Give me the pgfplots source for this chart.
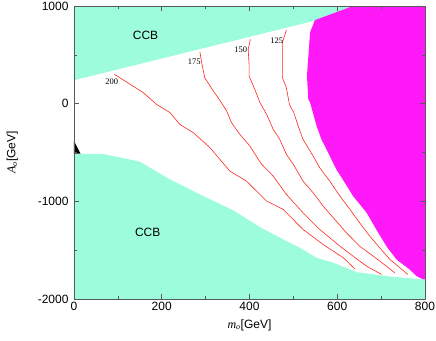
\documentclass[border=0pt]{standalone}
\usepackage{fontspec}
\setmainfont{Liberation Sans}
\newfontfamily\tms{Liberation Serif}
\usepackage{pgfplots}
\pgfplotsset{compat=1.18}
\definecolor{ccb}{RGB}{157,252,220}
\definecolor{mag}{RGB}{255,25,248}
\definecolor{cont}{RGB}{255,40,30}

\begin{document}
\begin{tikzpicture}
\path[use as bounding box] (-74pt,-41pt) rectangle (362pt,299pt);
\begin{axis}[
  scale only axis,
  width=351pt, height=293pt,
  xmin=0, xmax=800, ymin=-2000, ymax=1000,
  xtick={0,200,...,800}, ytick={-2000,-1000,0,1000},
  minor xtick={100,300,500,700}, minor ytick={-1500,-500,500},
  tick align=inside,
  major tick length=5pt, minor tick length=3pt,
  every tick/.style={gray!70!black, line width=0.5pt},
  axis line style={gray!70!black, line width=0.6pt},
  axis on top,
  ticklabel style={font=\fontsize{12}{14}\selectfont},
  yticklabel style={xshift=-2pt},
  /pgf/number format/assume math mode=true,
  /pgf/number format/1000 sep={},
  xlabel={{\tms\itshape m\textsubscript{o}}[GeV]},
  ylabel={{\tms\itshape A\textsubscript{o}}[GeV]},
  label style={font=\fontsize{12}{14}\selectfont},
  xlabel style={at={(axis description cs:0.5,-0.089)}, anchor=center},
  ylabel style={at={(axis description cs:-0.176,0.5)}, anchor=center},
]
% upper CCB
\addplot[fill=ccb, draw=none] coordinates {
  (0,240) (549,850) (636,1000) (0,1000)};
% lower CCB
\addplot[fill=ccb, draw=none] coordinates {
  (0,-515) (67,-515) (150,-594) (219,-776) (287,-930) (363,-1092)
  (424,-1264) (477,-1390) (515,-1476) (553,-1578) (591,-1629)
  (644,-1725) (720,-1770) (796,-1800) (800,-1805) (800,-2000) (0,-2000)};
% black corner
\addplot[fill=black, draw=none] coordinates {
  (0,-383) (15,-512) (0,-512)};
% excluded region (right)
\addplot[fill=mag, draw=none] coordinates {
  (636,1000) (549,855) (538,730) (531,283) (534,44) (538,13) (553,-229)
  (564,-366) (579,-500) (598,-673) (616,-800) (636,-946) (667,-1117)
  (689,-1288) (712,-1459) (735,-1595) (765,-1698) (781,-1766)
  (796,-1800) (800,-1800) (800,1000)};
% contours
\addplot[cont, line width=0.6pt] coordinates {
  (92,301) (128,198) (158,113) (188,-7) (219,-92) (241,-212) (272,-297)
  (310,-451) (355,-690) (393,-793) (439,-997) (477,-1083) (522,-1288)
  (568,-1442) (614,-1578) (640,-1691)};
\addplot[cont, line width=0.6pt] coordinates {
  (287,530) (291,420) (298,266) (315,147) (331,44) (348,-75) (359,-195)
  (378,-314) (401,-434) (420,-570) (428,-622) (454,-741) (484,-929)
  (522,-1117) (560,-1288) (606,-1459) (636,-1561) (667,-1664) (701,-1749)};
\addplot[cont, line width=0.6pt] coordinates {
  (402,659) (397,557) (399,403) (399,284) (412,147) (424,10) (439,-109)
  (454,-263) (469,-366) (484,-519) (500,-622) (522,-793) (545,-912)
  (568,-1049) (591,-1168) (621,-1322) (651,-1459) (682,-1561)
  (712,-1664) (731,-1732)};
\addplot[cont, line width=0.6pt] coordinates {
  (484,752) (475,625) (475,266) (484,164) (491,-7) (501,-92) (511,-229)
  (522,-366) (545,-536) (560,-656) (583,-793) (606,-946) (629,-1083)
  (651,-1220) (674,-1356) (697,-1476) (720,-1595) (743,-1681) (761,-1749)};
% labels
\node[font=\tms\fontsize{8.5}{10}\selectfont] at (axis cs:86,222) {200};
\node[font=\tms\fontsize{8.5}{10}\selectfont] at (axis cs:274,427) {175};
\node[font=\tms\fontsize{8.5}{10}\selectfont] at (axis cs:380,557) {150};
\node[font=\tms\fontsize{8.5}{10}\selectfont] at (axis cs:462,649) {125};
\node[font=\fontsize{12}{14}\selectfont] at (axis cs:163,700) {CCB};
\node[font=\fontsize{12}{14}\selectfont] at (axis cs:168,-1315) {CCB};
\end{axis}
\end{tikzpicture}
\end{document}
